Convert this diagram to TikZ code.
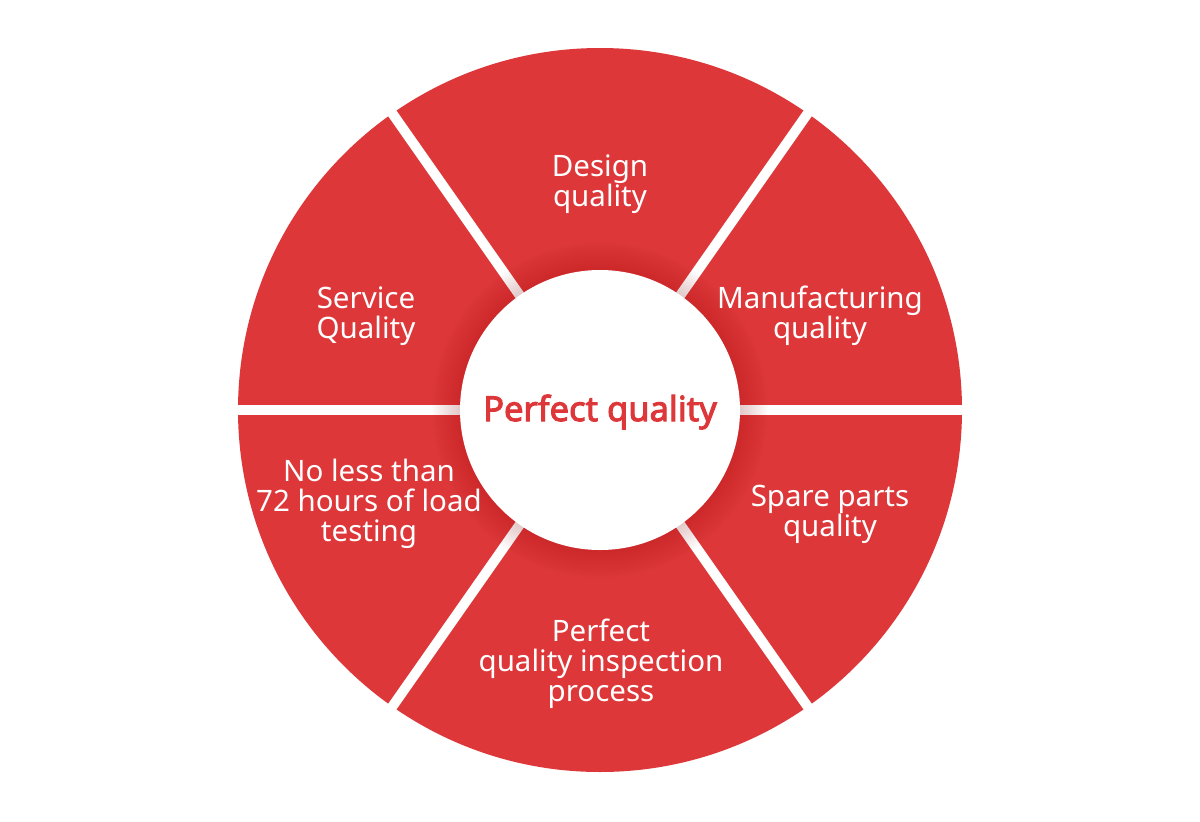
\documentclass[tikz,border=0pt]{standalone}
\usepackage{fontspec}
\setmainfont{Noto Sans}
\newfontfamily\centerfont{Noto Sans}[FakeBold=3]
\usetikzlibrary{calc}
\definecolor{qred}{HTML}{DD3739}
\definecolor{qshadow}{HTML}{9A1A1C}
\tikzset{
  seglabel/.style={text=white, align=center, font=\fontsize{29.5}{30}\selectfont, inner sep=0pt},
  gapline/.style={draw=white, line width=10pt},
  centerlabel/.style={text=qred, font=\centerfont\fontsize{34.5}{38}\selectfont, inner sep=0pt}
}
\begin{document}
\begin{tikzpicture}[x=1pt,y=-1pt]
\useasboundingbox (0,0) rectangle (1200,822);
\fill[white] (0,0) rectangle (1200,822);
\coordinate (c) at (600,410);
% outer disc
\fill[qred] (c) circle[radius=362];
% gaps
\foreach \a/\n in {0/g0,55/g1,125/g2,180/g3,235/g4,305/g5}{
  \coordinate (\n) at ($(c)+(\a:370)$);
}
\foreach \n in {g0,g1,g2,g3,g4,g5}{
  \draw[gapline] (c) -- (\n);
}
% soft shadow around the centre
\foreach \k in {1,...,14}{
  \fill[qshadow, opacity=0.015] (c) circle[radius=140+2*\k];
}
\fill[white] (c) circle[radius=140];
% labels
\node[centerlabel] (center) at (600,412) {Perfect quality};
\node[seglabel] (design) at (600,184) {Design\\quality};
\node[seglabel] (manu) at (820,316) {Manufacturing\\quality};
\node[seglabel] (spare) at (830,514) {Spare parts\\quality};
\node[seglabel] (insp) at (601,664) {Perfect\\quality inspection\\process};
\node[seglabel] (load) at (369,504) {No less than\\72 hours of load\\testing};
\node[seglabel] (service) at (366,316) {Service\\Quality};
\end{tikzpicture}
\end{document}
